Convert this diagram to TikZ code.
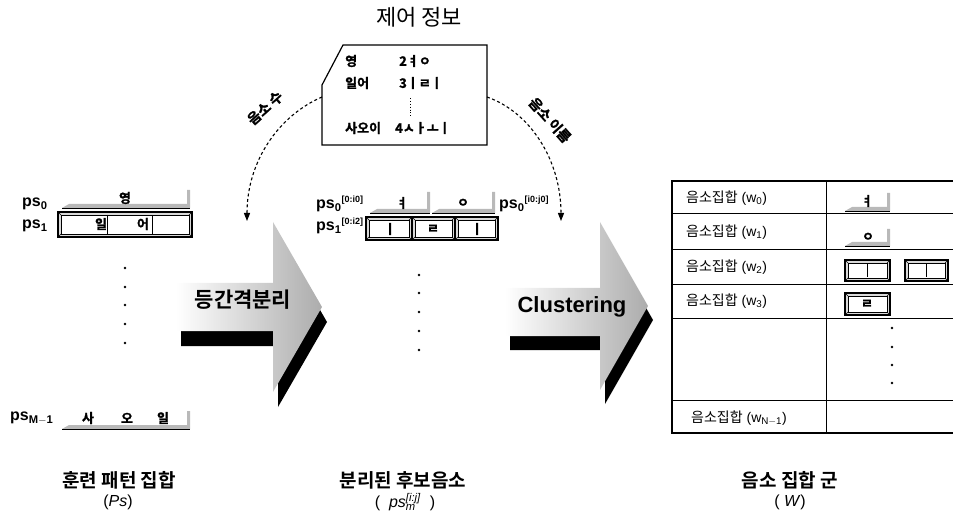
\documentclass[tikz,border=0pt]{standalone}
\usepackage{fontspec}
\setmainfont{Liberation Sans}
\newfontfamily\kr{Noto Sans CJK KR}
\newfontfamily\krb{Noto Sans CJK KR Bold}
\newfontfamily\krbb{Noto Sans CJK KR Bold}[FakeBold=1.5]
\usetikzlibrary{arrows.meta}
\newcommand\btnbox[4]{%
  \filldraw[fill=gray!30,line width=1.1pt] (#1,#2) rectangle (#3,#4);
  \filldraw[fill=white,line width=0.5pt] (#1+3,#2+3) rectangle (#3-3,#4-3);
  \draw[line width=0.4pt] (#1,#2)--(#1+3,#2+3) (#3,#2)--(#3-3,#2+3) (#1,#4)--(#1+3,#4-3) (#3,#4)--(#3-3,#4-3);}
\newcommand\shelf[4]{%
  \fill[gray!55] (#1,#3) -- (#1+7,#3-4) -- (#2-3,#3-4) -- (#2-3,#4) -- (#2,#4) -- (#2,#3) -- cycle;
  \draw[line width=0.6pt] (#1,#3) -- (#2,#3);}
\tikzset{
  jamo/.style={font=\krbb\fontsize{13}{13}\selectfont, inner sep=0pt},
  pslab/.style={font=\bfseries\fontsize{16}{16}\selectfont, anchor=west, inner sep=0pt},
  captext/.style={font=\krb\fontsize{19}{19}\selectfont, inner sep=0pt},
  capsub/.style={font=\fontsize{16}{16}\selectfont, inner sep=0pt},
  rowlab/.style={font=\fontsize{14}{14}\selectfont, anchor=west, inner sep=0pt},
  dashedarc/.style={line width=1.1pt, dash pattern=on 3pt off 2.5pt, -{Triangle[width=6pt,length=8pt]}},
  arclab/.style={font=\krbb\fontsize{14}{14}\selectfont, inner sep=0pt},
  dot/.style={circle, fill=black, inner sep=0pt, minimum size=2.6pt},
}
\begin{document}
\begin{tikzpicture}[x=1pt,y=-1pt]
\useasboundingbox (0,0) rectangle (953,529);

% ---------- control info ----------
\node[font=\kr\fontsize{22}{22}\selectfont, inner sep=0pt] (title) at (419,17) {제어 정보};
\draw[line width=1.2pt] (343,45) -- (487,45) -- (487,145) -- (322,145) -- (322,85) -- cycle;
\coordinate (boxL) at (322,97);
\coordinate (boxR) at (487,97);
\node[jamo, anchor=west] (c1a) at (345,61) {영};
\node[jamo, anchor=west] (c1b) at (399,61) {2ㅕㅇ};
\node[jamo, anchor=west] (c2a) at (345,83) {일어};
\node[jamo, anchor=west] (c2b) at (399,83) {3ㅣㄹㅣ};
\draw[line width=0.9pt, dotted] (410,98) -- (410,116);
\node[jamo, anchor=west] (c3a) at (345,128) {사오이};
\node[jamo, anchor=west] (c3b) at (395,128) {4ㅅㅏㅗㅣ};

% ---------- dashed arcs ----------
\coordinate (arrL) at (247,221);
\coordinate (arrR) at (561,221);
\draw[dashedarc] (boxL) .. controls (280,115) and (247,160) .. (arrL);
\draw[dashedarc] (boxR) .. controls (530,112) and (561,160) .. (arrR);
\node[arclab, rotate=42] (numlab) at (265,108) {음소 수};
\node[arclab, rotate=-48] (namelab) at (550,120) {음소 이름};

% ---------- left panel ----------
\node[pslab] (ps0) at (22,204) {ps\textsubscript{0}};
\node[pslab] (ps1) at (22,226) {ps\textsubscript{1}};
\shelf{62}{190}{208}{190}
\node[jamo] (l0) at (125,198) {영};
\btnbox{58}{212}{192}{237}
\draw[line width=0.6pt] (107,215) -- (107,234) (152,215) -- (152,234);
\node[jamo] (l1a) at (101,224) {일};
\node[jamo] (l1b) at (143,224) {어};
\foreach \y [count=\i] in {268,287,305,324,343} \node[dot] (ld\i) at (125,\y) {};
\node[pslab] (psM) at (10,418) {ps\textsubscript{M$-$1}};
\shelf{62}{190}{429}{411}
\node[jamo] (lm1) at (88,418) {사};
\node[jamo] (lm2) at (127,418) {오};
\node[jamo] (lm3) at (163,418) {일};

% ---------- big arrow 1 ----------
\fill[black] (181,298) -- (278,298) -- (278,237) -- (327,322) -- (278,407) -- (278,346) -- (181,346) -- cycle;
\shade[left color=white, right color=gray!65] (176,283) -- (273,283) -- (273,222) -- (322,307) -- (273,392) -- (273,331) -- (176,331) -- cycle;
\node[font=\krb\fontsize{21}{21}\selectfont, inner sep=0pt] (sep) at (243,300) {등간격분리};

% ---------- middle panel ----------
\node[pslab] (m0) at (316,204) {ps\textsubscript{0}\textsuperscript{\fontsize{9}{9}\selectfont[0:i0]}};
\shelf{370}{430}{213}{192}
\shelf{432}{495}{213}{192}
\node[jamo] (m0a) at (402,203) {ㅕ};
\node[jamo] (m0b) at (463,203) {ㅇ};
\node[pslab] (m0r) at (499,204) {ps\textsubscript{0}\textsuperscript{\fontsize{9}{9}\selectfont[i0:j0]}};
\node[pslab] (m1) at (316,226) {ps\textsubscript{1}\textsuperscript{\fontsize{9}{9}\selectfont[0:i2]}};
\btnbox{366}{217}{412}{240}
\btnbox{412}{217}{455}{240}
\btnbox{455}{217}{498}{240}
\node[jamo] (m1a) at (390,229) {ㅣ};
\node[jamo] (m1b) at (433,229) {ㄹ};
\node[jamo] (m1c) at (477,229) {ㅣ};
\foreach \y [count=\i] in {275,293,312,331,350} \node[dot] (md\i) at (419,\y) {};

% ---------- big arrow 2 ----------
\fill[black] (510,302) -- (605,302) -- (605,236) -- (653,320) -- (605,404) -- (605,350) -- (510,350) -- cycle;
\shade[left color=white, right color=gray!65] (505,288) -- (600,288) -- (600,222) -- (648,306) -- (600,390) -- (600,336) -- (505,336) -- cycle;
\node[font=\bfseries\fontsize{22}{22}\selectfont, inner sep=0pt] (clu) at (572,307) {Clustering};

% ---------- table ----------
\draw[line width=1.1pt] (953,181) -- (672,181) -- (672,433) -- (953,433);
\draw[line width=0.9pt] (826,181) -- (826,433);
\foreach \y in {213,249,284,318,400} \draw[line width=0.9pt] (672,\y) -- (953,\y);
\node[rowlab] (w0) at (686,198) {{\kr 음소집합} (w\textsubscript{0})};
\node[rowlab] (w1) at (686,232) {{\kr 음소집합} (w\textsubscript{1})};
\node[rowlab] (w2) at (686,267) {{\kr 음소집합} (w\textsubscript{2})};
\node[rowlab] (w3) at (686,301) {{\kr 음소집합} (w\textsubscript{3})};
\node[rowlab] (wn) at (691,418) {{\kr 음소집합} (w\textsubscript{N$-$1})};
\shelf{845}{890}{211}{193}
\node[jamo] (t0) at (867,201) {ㅕ};
\shelf{845}{890}{246}{229}
\node[jamo] (t1) at (868,237) {ㅇ};
\btnbox{845}{260}{890}{281}
\btnbox{905}{260}{948}{281}
\draw[line width=0.6pt] (867,264) -- (867,277) (926,264) -- (926,277);
\btnbox{845}{293}{890}{315}
\node[jamo] (t3) at (867,304) {ㄹ};
\foreach \y [count=\i] in {328,347,365,383} \node[dot] (td\i) at (892,\y) {};

% ---------- captions ----------
\node[captext] (cap1) at (119,480) {훈련 패턴 집합};
\node[capsub] (cap1s) at (118,502) {(\textit{Ps})};
\node[captext] (cap2) at (403,480) {분리된 후보음소};
\node[capsub] (cap2s) at (405,502) {(\ \ \textit{ps}\rlap{\textsubscript{\textit{m}}}\textsuperscript{\textit{[i:j]}}\ \ )};
\node[captext] (cap3) at (790,480) {음소 집합 군};
\node[capsub] (cap3s) at (790,502) {(\ \textit{W})};
\end{tikzpicture}
\end{document}
